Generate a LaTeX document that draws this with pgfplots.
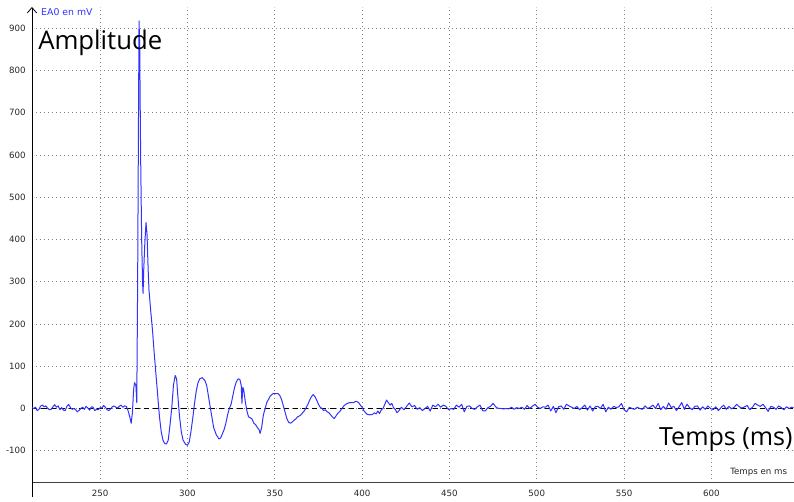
\documentclass[border=0pt]{standalone}
\usepackage{pgfplots}
\pgfplotsset{compat=1.18}
\usepackage{fontspec}
\setmainfont{DejaVu Sans}
\newfontfamily\bigfont{Open Sans}
\usetikzlibrary{arrows.meta}
\definecolor{sig}{RGB}{50,50,255}
\definecolor{gridc}{RGB}{130,130,130}
\pgfplotstableread{
x y
211 2
212 0
213 3
214 -5
215 -2
216 6
217 8
218 4
219 6
220 0
221 -3
222 -2
223 4
224 9
225 3
226 6
227 -3
228 2
229 -4
230 -5
231 5
232 10
233 2
234 -2
235 0
236 -3
237 -8
238 -4
239 0
240 3
241 -2
242 5
243 1
244 -4
245 4
246 3
247 -5
248 -2
249 -3
250 2
251 1
252 7
253 3
254 -3
255 -5
256 -1
257 4
258 6
259 3
260 1
261 5
262 8
263 3
264 6
265 5
266 -5
267 -20
267.8 -35
268.5 -10
269.2 45
269.7 61
270.5 55
271.0 14
271.5 300
272.0 700
272.3 917
272.7 850
273.2 600
273.8 400
274.3 300
274.6 272
275.0 330
275.6 390
276.3 440
276.9 410
277.5 330
278.0 280
279.0 230
280.0 185
281.0 130
282.0 80
283.0 30
284.0 -20
285.0 -55
286.0 -75
287.0 -83
288.0 -84
289.0 -75
290.0 -40
291.0 0
292.0 55
293.0 78
293.8 70
294.5 30
295.5 -20
296.5 -55
297.5 -75
299.0 -85
300.0 -87
301.0 -80
302.0 -55
303.0 -25
304.0 10
305.0 40
306.0 60
307.0 70
308.5 73
310.0 66
311.0 55
312.0 30
313.0 5
314.0 -20
315.0 -45
316.5 -62
318.0 -72
319.0 -70
320.0 -60
321.0 -50
322.0 -35
323.0 -15
324.0 0
325.0 10
326.0 30
327.0 50
328.0 63
329.0 70
330.0 69
330.8 55
331.2 12
331.7 50
332.2 45
333.0 20
334.0 -5
335.0 -20
336.0 -22
337.0 -25
338.0 -35
339.0 -38
340.0 -45
341.0 -50
341.6 -59
342.5 -45
343.5 -15
344.5 0
345.5 15
346.5 22
347.5 30
349.0 35
350.5 35
352.0 35
353.0 30
354.0 20
355.0 5
356.0 -10
357.0 -25
358.0 -33
359.0 -35
360.0 -32
361.0 -28
362.0 -25
363.0 -20
364.0 -18
365.0 -15
366.0 -10
367.0 -5
368.0 2
369.0 10
370.0 20
371.0 28
372.0 33
373.0 28
374.0 20
375.0 10
376.0 3
377.0 0
378.0 -5
379.0 -3
380.0 -8
381.0 -10
382.0 -15
383.0 -20
384.0 -24
385.0 -18
386.0 -12
387.0 -8
388.0 -3
389.0 3
390.0 8
391.5 12
393.0 14
395.0 14
396.5 17
398.0 14
399.0 8
400.0 3
401.0 -5
402.0 -10
403.0 -14
404.5 -15
406.0 -14
407.0 -10
408.0 -13
409.0 -6
410.0 -12
411.0 -3
412.0 0
413.0 10
414.0 20
415.0 14
416.0 8
417.0 12
418.0 2
419.0 -2
420.0 -10
421.0 -6
422.5 3
424 -3
425.5 5
427 13
428.5 4
430 7
431.5 -2
433 2
434.5 -5
436 0
437.5 5
439 -6
440.5 8
442 4
443.5 10
445 3
446.5 8
448 5
449.5 -3
451 0
452.5 -2
454 8
455.5 3
457 10
458.5 -8
460 5
461.5 6
463 0
464.5 -2
466 4
467.5 8
469 -5
470.5 -6
472 2
473.5 5
475 12
476.5 4
478 0
479.5 0
481 -1
482.5 0
484 -1
485.5 3
487 -2
488.5 2
490 0
491.5 3
493 -2
494.5 7
496 0
497.5 5
499 10
500.5 3
502 0
503.5 4
505 3
506.5 8
508 -6
509.5 5
511 -10
512.5 4
514 6
515.5 -2
517 10
518.5 6
520 3
521.5 0
523 5
524.5 -3
526 2
527.5 8
529 -4
530.5 6
532 -6
533.5 4
535 5
536.5 0
538 10
539.5 -8
541 3
542.5 -2
544 5
545.5 2
547 4
548.5 12
550 -3
551.5 -8
553 3
554.5 0
556 -2
557.5 3
559 0
560.5 -2
562 6
563.5 0
565 3
566.5 8
568 0
569.5 12
571 -3
572.5 5
574 -2
575.5 13
577 2
578.5 5
580 -5
581.5 4
583 14
584.5 -2
586 10
587.5 2
589 -3
590.5 5
592 6
593.5 -4
595 4
596.5 -2
598 6
599.5 0
601 -3
602.5 4
604 -5
605.5 2
607 8
608.5 -2
610 5
611.5 -1
613 3
614.5 10
616 4
617.5 1
619 4
620.5 7
622 -3
623.5 3
625 12
626.5 8
628 5
629.5 10
631 2
632.5 -7
634 5
635.5 3
637 -2
638.5 6
640 2
641.5 -3
643 4
644.5 0
646 3
647 2
}\sig
\begin{document}
\begin{tikzpicture}
\begin{axis}[
  name=ax,
  at={(0,0)}, anchor=south west,
  scale only axis,
  width=571.5pt, height=357pt,
  xmin=211, xmax=647,
  ymin=-175.6, ymax=950,
  axis lines=left,
  x axis line style={-, draw=black!75, line width=0.75pt},
  y axis line style={-{Straight Barb[length=4pt,width=7pt]}, draw=black, line width=0.6pt},
  xtick={250,300,...,600},
  ytick={-100,0,100,...,900},
  tick style={draw=none},
  grid=major,
  major grid style={draw=gridc, line width=0.6pt, dash pattern=on 0.6pt off 2.4pt},
  /pgf/number format/assume math mode=true,
  /pgf/number format/1000 sep={},
  ticklabel style={font=\fontsize{6.5}{7}\selectfont, text=black!85},
  yticklabel style={xshift=1pt},
  xticklabel style={yshift=0pt},
  clip=false,
]
\addplot[black, line width=0.6pt, dash pattern=on 4pt off 3pt, forget plot] coordinates {(211,0) (647,0)};
\addplot[sig, line width=0.75pt, line join=round] table {\sig};
\node[anchor=west, inner sep=0pt, text=sig, font=\fontsize{7}{8}\selectfont] at (rel axis cs:0.0118,0.9895) {EA0 en mV};
\node[anchor=west, inner sep=0pt, font=\bigfont\fontsize{19.3}{21}\selectfont] at (rel axis cs:0.0079,0.924) {Amplitude};
\node[anchor=east, inner sep=0pt, font=\bigfont\fontsize{18.8}{21}\selectfont] at (rel axis cs:0.999,0.0903) {Temps (ms)};
\node[anchor=east, inner sep=0pt, font=\fontsize{6.5}{7}\selectfont, text=black!85] at (rel axis cs:0.992,0.023) {Temps en ms};
\end{axis}
\draw[black, line width=0.6pt] (ax.south west) -- ++(0,-10.5pt);
\path[use as bounding box] (-24pt,-10.5pt) rectangle (571.5pt,362.25pt);
\end{tikzpicture}
\end{document}
